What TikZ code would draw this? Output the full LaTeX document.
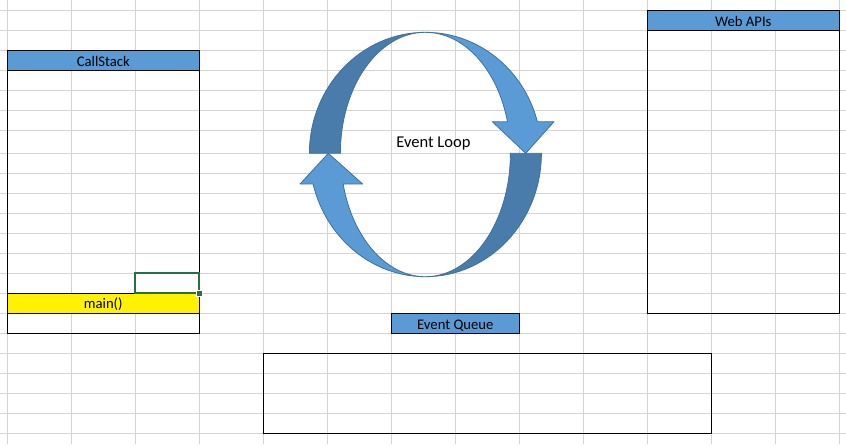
\documentclass[tikz,border=0pt]{standalone}
\usepackage{fontspec}
\setmainfont{Carlito}
\definecolor{gridgray}{HTML}{D4D4D4}
\definecolor{headblue}{HTML}{5B9BD5}
\definecolor{backblue}{HTML}{497CAA}
\definecolor{lineblue}{HTML}{41719C}
\definecolor{selgreen}{HTML}{217346}
\tikzset{cell/.style={anchor=base, inner sep=0pt, font=\fontsize{11}{13}\selectfont},
box/.style={draw=black, line width=0.75pt},
%curved arrows of the loop
ribbon/.style={draw=lineblue, line width=0.6pt, line join=round}}

\begin{document}
\begin{tikzpicture}[x=0.75pt,y=-0.75pt]
\fill[white] (0,0) rectangle (846,444);
\useasboundingbox (0,0) rectangle (846,444);
% sheet grid
\foreach \i in {0,...,13}
     \draw[gridgray, line width=0.75pt] (7.3+64*\i,0) -- (7.3+64*\i,444);
\foreach \i in {0,...,6}
     \draw[gridgray, line width=0.75pt] (0,10.7+20*\i) -- (846,10.7+20*\i);
\foreach \i in {0,...,14}
     \draw[gridgray, line width=0.75pt] (0,153.3+20*\i) -- (846,153.3+20*\i);

% CallStack
\draw[box] (7.3,50.7) rectangle (199.3,333.3);
\draw[box, fill=headblue] (7.3,50.7) rectangle (199.3,70.7);
\draw[box, fill=yellow] (7.3,293.3) rectangle (199.3,313.3);
\node[cell] (callstack) at (103.3,66) {CallStack};
\node[cell] (mainfn) at (103.3,308.7) {main()};
\draw[selgreen, line width=1.5pt] (135.3,273.3) rectangle (199.3,293.3);
\fill[selgreen, draw=white, line width=0.5pt] (196.6,290.6) rectangle (202,296);

% Web APIs
\draw[box] (647.3,10.7) rectangle (839.3,313.3);
\draw[box, fill=headblue] (647.3,10.7) rectangle (839.3,30.7);
\node[cell] (webapis) at (743.3,26) {Web APIs};

% Event Queue
\draw[box, fill=headblue] (391.3,313.3) rectangle (519.3,333.3);
\node[cell] (queuehead) at (455.3,329) {Event Queue};
\draw[box] (263.3,353.3) rectangle (711.3,433.3);

% Event Loop
\filldraw[ribbon, fill=backblue] (309.4,153.3)
     arc[start angle=180, end angle=270, x radius=116, y radius=121]
     arc[start angle=270, end angle=180, x radius=85, y radius=121] -- cycle;
\filldraw[ribbon, fill=headblue] (425.4,32.3)
     arc[start angle=270, end angle=344.9, x radius=116, y radius=121]
     -- (554,121.7) -- (525.7,153.3) -- (492.3,121.7) -- (507.5,121.8)
     arc[start angle=344.9, end angle=270, x radius=85, y radius=121] -- cycle;
\filldraw[ribbon, fill=backblue] (541.4,153.3)
     arc[start angle=0, end angle=90, x radius=116, y radius=123.4]
     arc[start angle=90, end angle=0, x radius=85, y radius=123.4] -- cycle;
\filldraw[ribbon, fill=headblue] (425.4,276.7)
     arc[start angle=90, end angle=165.6, x radius=116, y radius=123.4]
     -- (300,184) -- (328.3,153.3) -- (362.7,184) -- (343.1,184)
     arc[start angle=165.6, end angle=90, x radius=85, y radius=123.4] -- cycle;
\node[cell, font=\fontsize{12.4}{15}\selectfont] (looplabel) at (433.5,147.3) {Event Loop};
\end{tikzpicture}
\end{document}
